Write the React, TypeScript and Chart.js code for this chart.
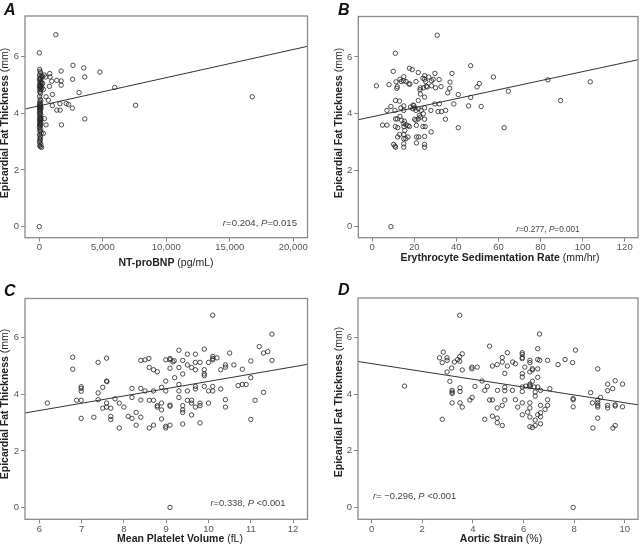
import React, { useEffect, useRef } from "react";
import { Chart, registerables } from "chart.js";
Chart.register(...registerables);

// ---------- DATA ----------
const yTicks = [0, 2, 4, 6];
const xTicksA = [0, 5000, 10000, 15000, 20000];
const xTicksB = [0, 20, 40, 60, 80, 100, 120];
const xTicksC = [6, 7, 8, 9, 10, 11, 12];
const xTicksD = [0, 2, 4, 6, 8, 10];

const pointsA: number[][] = [
  [1300, 6.77], [0, 6.13], [2650, 5.69], [3500, 5.6], [4770, 5.45], [1720, 5.49], [3580, 5.28],
  [2620, 5.2], [1720, 5.14], [1380, 5.16], [980, 5.13], [850, 5.28], [820, 5.4], [500, 5.28],
  [400, 5.35], [240, 5.3], [1720, 4.99], [795, 4.95], [5940, 4.91], [3130, 4.73], [530, 4.58],
  [1030, 4.66], [715, 4.46], [320, 4.84], [265, 5.05], [1620, 4.34], [2120, 4.34], [2300, 4.31],
  [1030, 4.27], [2600, 4.18], [1380, 4.11], [1640, 4.11], [7580, 4.28], [16770, 4.58], [3580, 3.8],
  [1750, 3.59], [530, 3.59], [400, 3.81], [320, 3.29], [0, 0],
  [30, 5.55], [60, 5.48], [100, 5.42], [20, 5.35], [150, 5.3], [40, 5.25], [90, 5.2], [10, 5.18],
  [130, 5.12], [60, 5.08], [170, 5.05], [30, 5.02], [110, 4.98], [50, 4.95], [80, 4.92], [200, 4.9],
  [20, 4.88], [140, 4.85], [70, 4.82], [40, 4.75], [100, 4.7], [25, 4.6], [60, 4.5], [120, 4.45],
  [30, 4.4], [80, 4.35], [15, 4.3], [50, 4.28], [110, 4.25], [35, 4.22], [70, 4.2], [140, 4.18],
  [20, 4.15], [90, 4.12], [45, 4.1], [60, 4.05], [10, 4.0], [120, 3.95], [30, 3.9], [80, 3.86],
  [55, 3.82], [150, 3.8], [20, 3.78], [100, 3.75], [40, 3.72], [70, 3.68], [130, 3.65], [25, 3.6],
  [90, 3.58], [50, 3.55], [10, 3.5], [110, 3.45], [35, 3.4], [75, 3.35], [160, 3.3], [20, 3.25],
  [60, 3.2], [100, 3.15], [40, 3.1], [80, 3.05], [15, 3.0], [55, 2.95], [120, 2.9], [30, 2.85],
  [90, 2.82], [180, 2.8], [45, 3.65], [65, 4.95], [130, 5.22], [85, 4.0],
];
const fitA: number[][] = [[-1130, 4.15], [21120, 6.36]];

const pointsB: number[][] = [
  [30.9, 6.77], [11.0, 6.13], [2.0, 4.98], [8.0, 5.02], [10.0, 5.49], [11.3, 5.12], [11.7, 4.89],
  [13.2, 5.21], [13.8, 5.13], [14.9, 5.16], [15.0, 5.3], [16.1, 5.13], [17.7, 5.6], [19.0, 5.55],
  [17.9, 5.04], [20.8, 5.13], [21.9, 5.45], [22.9, 4.91], [22.7, 4.84], [22.9, 4.69], [24.1, 5.25],
  [24.9, 5.34], [24.9, 5.21], [25.4, 5.13], [25.7, 4.96], [26.1, 4.94], [24.4, 4.91], [26.9, 5.29],
  [28.2, 5.16], [29.0, 5.21], [29.8, 5.42], [30.1, 4.91], [28.2, 4.98], [31.8, 5.2], [32.7, 4.95],
  [24.9, 4.58], [29.8, 4.34], [31.9, 4.34], [35.9, 4.73], [36.8, 4.89], [37.0, 5.11], [37.9, 5.42],
  [40.9, 4.67], [46.8, 5.69], [46.8, 4.57], [49.8, 4.94], [50.9, 5.06], [57.6, 5.29], [64.7, 4.79],
  [83.5, 5.19], [89.5, 4.46], [103.6, 5.12], [45.8, 4.27], [51.8, 4.25], [38.8, 4.34], [34.9, 4.11],
  [32.9, 4.07], [31.3, 4.07], [27.9, 4.11], [34.8, 3.8], [40.9, 3.5], [62.7, 3.5], [28.0, 3.35],
  [4.9, 3.59], [7.0, 3.59], [7.0, 4.11], [8.9, 4.25], [11.1, 4.46], [13.0, 4.44], [10.8, 4.11],
  [11.1, 3.81], [11.9, 3.81], [12.1, 3.5], [11.0, 3.54], [13.6, 4.2], [15.0, 4.27], [15.0, 4.11],
  [13.2, 3.9], [14.0, 3.76], [15.3, 3.73], [15.0, 3.64], [15.1, 3.54], [16.1, 3.6], [17.0, 3.57],
  [17.7, 3.54], [15.5, 3.4], [15.0, 3.26], [13.0, 3.26], [12.1, 3.17], [17.0, 3.17], [15.0, 3.11],
  [16.0, 3.11], [15.0, 2.93], [15.0, 2.81], [10.2, 2.91], [10.8, 2.85], [11.1, 2.81], [18.2, 4.23],
  [19.3, 4.17], [19.8, 4.28], [20.2, 4.2], [20.8, 4.11], [21.9, 4.17], [21.9, 4.46], [22.4, 3.93],
  [22.9, 3.87], [21.9, 3.81], [20.8, 3.76], [20.2, 3.8], [23.2, 4.11], [24.9, 4.2], [24.3, 3.99],
  [24.9, 3.8], [24.1, 3.54], [25.2, 3.54], [21.0, 3.58], [21.1, 3.17], [22.1, 3.17], [21.0, 2.96],
  [24.9, 3.19], [24.9, 2.91], [24.9, 2.81], [8.9, 0], [17.4, 5.05], [11.9, 4.95], [19.5, 4.3],
];
const fitB: number[][] = [[-6.6, 3.78], [126.3, 5.9]];

const pointsC: number[][] = [
  [6.19, 3.69], [6.79, 5.31], [6.79, 4.89], [6.88, 3.79], [6.99, 4.27], [6.99, 4.21], [6.99, 4.11],
  [6.99, 3.79], [6.99, 3.15], [7.29, 3.19], [7.39, 5.13], [7.39, 4.05], [7.39, 3.81], [7.5, 4.25],
  [7.5, 3.51], [7.59, 5.28], [7.59, 4.47], [7.6, 4.45], [7.59, 3.69], [7.59, 3.55], [7.69, 3.51],
  [7.69, 3.22], [7.69, 3.11], [7.79, 3.84], [7.89, 3.69], [7.89, 2.81], [8.0, 3.55], [8.1, 3.22],
  [8.19, 4.21], [8.19, 3.89], [8.19, 3.15], [8.29, 3.36], [8.29, 2.91], [8.4, 5.2], [8.4, 4.21],
  [8.4, 3.8], [8.4, 3.19], [8.5, 5.22], [8.5, 4.12], [8.59, 5.27], [8.6, 4.95], [8.6, 3.79],
  [8.6, 2.81], [8.7, 4.87], [8.7, 4.12], [8.7, 3.79], [8.7, 2.91], [8.79, 4.8], [8.79, 3.6],
  [8.79, 3.55], [8.89, 4.25], [8.89, 3.69], [8.89, 3.45], [8.89, 3.13], [8.99, 5.22], [8.99, 4.47],
  [8.99, 4.12], [8.99, 2.87], [8.99, 2.81], [9.09, 5.27], [9.09, 5.22], [9.09, 4.92], [9.09, 3.62],
  [9.09, 3.58], [9.09, 2.91], [9.09, 0], [9.16, 5.15], [9.19, 5.19], [9.2, 4.59], [9.3, 5.56],
  [9.3, 4.95], [9.3, 4.35], [9.3, 4.12], [9.3, 3.89], [9.39, 5.2], [9.39, 4.72], [9.39, 3.6],
  [9.39, 3.45], [9.39, 3.36], [9.39, 2.95], [9.5, 5.42], [9.5, 5.04], [9.5, 4.12], [9.5, 3.79],
  [9.6, 4.95], [9.6, 3.79], [9.6, 3.69], [9.6, 3.27], [9.69, 5.42], [9.69, 5.13], [9.69, 4.87],
  [9.69, 4.28], [9.69, 4.19], [9.69, 3.55], [9.8, 3.69], [9.8, 3.6], [9.8, 5.13], [9.8, 2.99],
  [9.9, 5.6], [9.9, 4.87], [9.9, 4.72], [9.9, 4.66], [9.9, 4.28], [10.0, 5.13], [10.0, 4.12],
  [10.0, 3.69], [10.1, 5.34], [10.1, 5.27], [10.1, 5.22], [10.1, 4.28], [10.1, 4.12], [10.1, 6.8],
  [10.2, 5.29], [10.29, 4.87], [10.29, 4.19], [10.4, 5.04], [10.4, 4.96], [10.4, 3.81], [10.4, 3.55],
  [10.5, 5.46], [10.6, 5.04], [10.7, 4.31], [10.8, 4.89], [10.8, 4.35], [10.89, 4.35], [11.0, 5.18],
  [11.0, 4.59], [11.0, 3.11], [11.1, 3.79], [11.2, 5.69], [11.3, 5.46], [11.3, 4.07], [11.4, 5.51],
  [11.5, 6.13], [11.5, 5.2],
];
const fitC: number[][] = [[5.66, 3.34], [12.34, 5.06]];

const pointsD: number[][] = [
  [1.3, 4.28], [2.79, 3.11], [2.68, 5.28], [2.79, 5.11], [2.83, 5.48], [2.98, 5.28], [2.98, 5.19],
  [2.98, 4.78], [3.09, 4.45], [3.16, 4.92], [3.27, 5.13], [3.18, 4.13], [3.18, 4.07], [3.18, 4.02],
  [3.18, 3.69], [3.4, 5.22], [3.48, 5.32], [3.48, 5.16], [3.48, 6.78], [3.49, 4.22], [3.49, 4.09],
  [3.49, 3.69], [3.58, 5.42], [3.58, 4.85], [3.58, 3.54], [3.88, 3.79], [3.96, 4.89], [3.96, 4.95],
  [3.97, 3.88], [4.08, 4.27], [4.17, 4.95], [4.36, 4.46], [4.47, 4.13], [4.47, 3.11], [4.57, 4.27],
  [4.66, 5.69], [4.66, 3.79], [4.77, 3.79], [4.77, 4.99], [4.77, 3.22], [4.96, 5.04], [4.97, 4.13],
  [4.96, 3.51], [4.96, 3.15], [4.96, 2.99], [5.16, 5.29], [5.16, 5.13], [5.16, 3.6], [5.16, 2.89],
  [5.26, 4.73], [5.26, 4.24], [5.26, 4.12], [5.26, 3.79], [5.36, 5.46], [5.36, 4.99], [5.57, 5.13],
  [5.68, 5.07], [5.68, 3.8], [5.56, 4.13], [5.77, 3.54], [5.95, 5.46], [5.95, 5.4], [5.95, 5.29],
  [5.95, 5.25], [5.95, 4.72], [5.95, 4.6], [5.95, 4.25], [5.95, 4.09], [5.95, 3.69], [5.95, 3.27],
  [6.05, 4.95], [6.09, 4.28], [6.16, 3.36], [6.25, 5.19], [6.25, 5.11], [6.25, 4.78], [6.25, 4.35],
  [6.25, 4.31], [6.25, 4.26], [6.25, 3.69], [6.25, 3.51], [6.25, 3.19], [6.25, 2.85], [6.35, 4.89],
  [6.35, 4.85], [6.35, 4.45], [6.35, 2.82], [6.42, 4.25], [6.46, 3.93], [6.46, 4.07], [6.46, 3.08],
  [6.46, 2.89], [6.56, 5.6], [6.56, 5.22], [6.56, 4.89], [6.56, 4.59], [6.56, 4.25], [6.56, 3.27],
  [6.64, 5.19], [6.63, 6.12], [6.67, 4.13], [6.67, 3.6], [6.67, 3.34], [6.67, 3.2], [6.67, 2.95],
  [6.85, 3.46], [6.95, 5.19], [6.95, 3.8], [6.95, 3.6], [7.04, 4.19], [7.36, 5.04], [7.64, 5.22],
  [7.94, 5.11], [7.96, 3.84], [7.96, 3.8], [7.96, 3.55], [7.96, 0], [8.05, 5.55], [8.65, 4.05],
  [8.72, 3.69], [8.74, 2.8], [8.93, 4.89], [8.93, 3.79], [8.93, 3.69], [8.93, 3.6], [8.93, 3.54],
  [8.93, 3.15], [9.04, 3.88], [9.32, 4.35], [9.32, 4.12], [9.32, 3.6], [9.32, 3.51], [9.52, 4.19],
  [9.53, 2.8], [9.62, 4.47], [9.62, 3.62], [9.62, 3.58], [9.62, 2.89], [9.91, 4.35], [9.91, 3.55],
];
const fitD: number[][] = [[-0.54, 5.15], [10.52, 3.62]];

const titleA = "NT-proBNP";
const unitA = " (pg/mL)";
const titleB = "Erythrocyte Sedimentation Rate";
const unitB = " (mm/hr)";
const titleC = "Mean Platelet Volume";
const unitC = " (fL)";
const titleD = "Aortic Strain";
const unitD = " (%)";
const yTitle = "Epicardial Fat Thickness";
const yUnit = " (mm)";
const statA = ["0.204", "0.015"];
const statB = ["0.277", "0.001"];
const statC = ["0.338", " <0.001"];
const statD = [" \u22120.296", " <0.001"];

// ---------- LAYOUT / STYLE ----------
const FAM = '"Liberation Sans", Arial, Helvetica, sans-serif';

type Seg = { t: string; f: string };

function drawRich(ctx: CanvasRenderingContext2D, segs: Seg[], x: number, y: number, align: string) {
  let total = 0;
  const widths = segs.map((s) => {
    ctx.font = s.f;
    const w = ctx.measureText(s.t).width;
    total += w;
    return w;
  });
  let cx = align === "center" ? x - total / 2 : align === "right" ? x - total : x;
  ctx.textAlign = "left";
  segs.forEach((s, i) => {
    ctx.font = s.f;
    ctx.fillText(s.t, cx, y);
    cx += widths[i];
  });
}

function statSegs(st: string[], size: number, pSep: string): Seg[] {
  const n = `${size}px ${FAM}`;
  const it = `italic ${size}px ${FAM}`;
  return [
    { t: "r", f: it },
    { t: "=" + st[0] + ", ", f: n },
    { t: "P", f: it },
    { t: (st[1].startsWith(" ") ? "" : "=") + st[1], f: n },
  ];
}

type Panel = {
  key: string;
  letter: string;
  left: number;
  top: number;
  w: number;
  h: number;
  area: { l: number; r: number; t: number; b: number };
  xMin: number;
  xMax: number;
  yMin: number;
  yMax: number;
  xTicks: number[];
  points: number[][];
  fit: number[][];
  title: string;
  unit: string;
  stat: string[];
  statSize: number;
  statX: number;
  statY: number;
  statAlign: string;
  letterX: number;
  letterY: number;
  xTitleX: number;
  xTitleY: number;
  yTitleX: number;
  yTitleY: number;
  fmt: (v: number) => string;
};

const panels: Panel[] = [
  {
    key: "A", letter: "A", left: 0, top: 0, w: 320, h: 272,
    area: { l: 25, r: 307.5, t: 16, b: 237.7 },
    xMin: -1126, xMax: 21118, yMin: -0.39, yMax: 7.43, xTicks: xTicksA,
    points: pointsA, fit: fitA, title: titleA, unit: unitA, stat: statA,
    statSize: 9.6, statX: 297, statY: 223, statAlign: "right",
    letterX: 4, letterY: 15, xTitleX: 166, xTitleY: 263, yTitleX: 5.5, yTitleY: 123,
    fmt: (v) => v.toLocaleString("en-US"),
  },
  {
    key: "B", letter: "B", left: 320, top: 0, w: 321, h: 272,
    area: { l: 38.3, r: 320, t: 16.5, b: 237.7 },
    xMin: -6.6, xMax: 126.3, yMin: -0.39, yMax: 7.43, xTicks: xTicksB,
    points: pointsB, fit: fitB, title: titleB, unit: unitB, stat: statB,
    statSize: 8.2, statX: 228, statY: 230, statAlign: "center",
    letterX: 18, letterY: 15, xTitleX: 180, xTitleY: 258, yTitleX: 19, yTitleY: 123,
    fmt: (v) => String(v),
  },
  {
    key: "C", letter: "C", left: 0, top: 272, w: 320, h: 272,
    area: { l: 25, r: 307.5, t: 26.5, b: 247.3 },
    xMin: 5.662, xMax: 12.34, yMin: -0.42, yMax: 7.39, xTicks: xTicksC,
    points: pointsC, fit: fitC, title: titleC, unit: unitC, stat: statC,
    statSize: 9.4, statX: 248, statY: 231, statAlign: "center",
    letterX: 4, letterY: 24, xTitleX: 180, xTitleY: 267, yTitleX: 5.5, yTitleY: 132,
    fmt: (v) => String(v),
  },
  {
    key: "D", letter: "D", left: 320, top: 272, w: 321, h: 272,
    area: { l: 38, r: 320, t: 26, b: 247.3 },
    xMin: -0.537, xMax: 10.52, yMin: -0.42, yMax: 7.39, xTicks: xTicksD,
    points: pointsD, fit: fitD, title: titleD, unit: unitD, stat: statD,
    statSize: 9.4, statX: 53, statY: 224, statAlign: "left",
    letterX: 18, letterY: 23, xTitleX: 181, xTitleY: 267, yTitleX: 19, yTitleY: 130,
    fmt: (v) => String(v),
  },
];

function ScatterPanel({ p }: { p: Panel }) {
  const ref = useRef<HTMLCanvasElement | null>(null);
  useEffect(() => {
    if (!ref.current) return;
    const textPlugin = {
      id: "panelText" + p.key,
      afterDraw(chart: any) {
        const ctx: CanvasRenderingContext2D = chart.ctx;
        const a = chart.chartArea;
        ctx.save();
        ctx.strokeStyle = "#8a8a8a";
        ctx.lineWidth = 1.3;
        ctx.strokeRect(a.left, a.top, a.right - a.left, a.bottom - a.top);
        ctx.fillStyle = "#111";
        ctx.textBaseline = "alphabetic";
        ctx.textAlign = "left";
        ctx.font = `italic bold 16px ${FAM}`;
        ctx.fillText(p.letter, p.letterX, p.letterY);
        ctx.textBaseline = "middle";
        ctx.fillStyle = "#222";
        drawRich(
          ctx,
          [
            { t: p.title, f: `bold 10.5px ${FAM}` },
            { t: p.unit, f: `10.5px ${FAM}` },
          ],
          p.xTitleX,
          p.xTitleY,
          "center"
        );
        ctx.fillStyle = "#444";
        drawRich(ctx, statSegs(p.stat, p.statSize, ""), p.statX, p.statY, p.statAlign);
        ctx.fillStyle = "#222";
        ctx.translate(p.yTitleX, p.yTitleY);
        ctx.rotate(-Math.PI / 2);
        drawRich(
          ctx,
          [
            { t: yTitle, f: `bold 10.5px ${FAM}` },
            { t: yUnit, f: `10.5px ${FAM}` },
          ],
          0,
          0,
          "center"
        );
        ctx.restore();
      },
    };
    const tickFont = { family: FAM, size: 9.5 };
    const chart = new Chart(ref.current, {
      type: "scatter",
      data: {
        datasets: [
          {
            data: p.points.map(([x, y]) => ({ x, y })),
            pointRadius: 2.2,
            pointBorderWidth: 0.8,
            pointBorderColor: "#222",
            pointBackgroundColor: "rgba(0,0,0,0)",
            pointHoverRadius: 2.2,
          },
          {
            data: p.fit.map(([x, y]) => ({ x, y })),
            showLine: true,
            pointRadius: 0,
            borderColor: "#333",
            borderWidth: 1,
          } as any,
        ],
      },
      options: {
        animation: false,
        responsive: false,
        maintainAspectRatio: false,
        events: [],
        layout: {
          padding: { left: 0, top: p.area.t, right: p.w - p.area.r, bottom: 0 },
        },
        plugins: { legend: { display: false }, tooltip: { enabled: false } },
        scales: {
          x: {
            type: "linear",
            min: p.xMin,
            max: p.xMax,
            afterBuildTicks: (s: any) => {
              s.ticks = p.xTicks.map((v) => ({ value: v }));
            },
            afterFit: (s: any) => {
              s.height = p.h - p.area.b;
            },
            border: { display: false },
            grid: { display: true, drawOnChartArea: false, drawTicks: true, tickLength: 4, color: "#888", lineWidth: 1 },
            ticks: {
              font: tickFont,
              color: "#555",
              padding: 0,
              maxRotation: 0,
              autoSkip: false,
              callback: (v: any) => p.fmt(Number(v)),
            },
          },
          y: {
            type: "linear",
            min: p.yMin,
            max: p.yMax,
            afterBuildTicks: (s: any) => {
              s.ticks = yTicks.map((v) => ({ value: v }));
            },
            afterFit: (s: any) => {
              s.width = p.area.l;
            },
            border: { display: false },
            grid: { display: true, drawOnChartArea: false, drawTicks: true, tickLength: 4, color: "#888", lineWidth: 1 },
            ticks: {
              font: tickFont,
              color: "#555",
              padding: 2,
              autoSkip: false,
              callback: (v: any) => String(v),
            },
          },
        },
      },
      plugins: [textPlugin],
    } as any);
    return () => chart.destroy();
  }, [p]);
  return (
    <canvas
      ref={ref}
      width={p.w}
      height={p.h}
      style={{ position: "absolute", left: p.left, top: p.top, width: p.w, height: p.h }}
    />
  );
}

export default function App() {
  return (
    <div style={{ position: "fixed", left: 0, top: 0, width: 641, height: 544, background: "#fff" }}>
      {panels.map((p) => (
        <ScatterPanel key={p.key} p={p} />
      ))}
    </div>
  );
}
